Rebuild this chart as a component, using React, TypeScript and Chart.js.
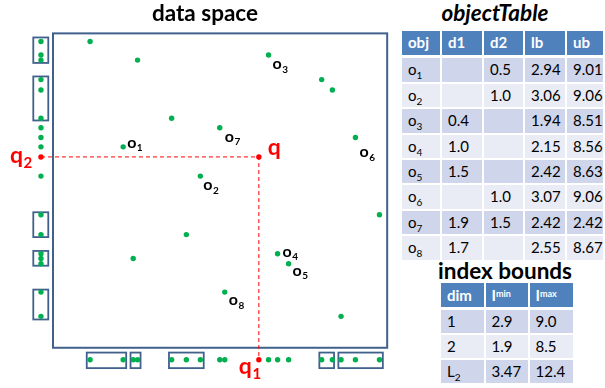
import React, { useEffect, useRef } from "react";
import { Chart, registerables } from "chart.js";

Chart.register(...registerables);

// ---- data space (x, y in units of the box: 0..100) ----
const pointX = [11.1, 25.3, 64.5, 80.4, 83.6, 35.5, 49.9, 90.5, 21.0, 44.1, 97.7, 39.9, 24.0, 67.2, 70.5, 51.4, 86.2];
const pointY = [97.4, 91.5, 93.1, 85.3, 82.0, 73.0, 70.0, 66.9, 63.9, 54.6, 42.3, 36.0, 28.4, 29.9, 26.7, 17.7, 10.0];
const pointNames = ["", "", "o3", "", "", "", "o7", "o6", "o1", "o2", "", "", "", "o4", "o5", "o8", ""];
const queryX = 61.6;
const queryY = 60.7;
// positions of the two projection axes
const projAxisX = -3.6;
const projAxisY = -3.83;
// bucket ranges on each projection axis
const yBuckets = [[90.6, 98.7], [72.3, 86.3], [35.2, 43.1], [26.1, 30.8], [9.0, 18.5]];
const xBuckets = [[10.1, 21.9], [23.2, 26.2], [34.7, 45.1], [79.7, 84.1], [85.4, 98.7]];
const bucketHalfWidth = 2.3;

// ---- tables ----
const objNames = ["1", "2", "3", "4", "5", "6", "7", "8"];
const objD1 = ["", "", "0.4", "1.0", "1.5", "", "1.9", "1.7"];
const objD2 = ["0.5", "1.0", "", "", "", "1.0", "1.5", ""];
const objLb = ["2.94", "3.06", "1.94", "2.15", "2.42", "3.07", "2.42", "2.55"];
const objUb = ["9.01", "9.06", "8.51", "8.56", "8.63", "9.06", "2.42", "8.67"];
const objHeaders = ["obj", "d1", "d2", "lb", "ub"];

const idxDims = ["1", "2", "L2"];
const idxMin = ["2.9", "1.9", "3.47"];
const idxMax = ["9.0", "8.5", "12.4"];

const FONT = "Lato, 'Open Sans', sans-serif";
const GREEN = "#00B050";
const RED = "#FF0000";
const FRAME = "#41618C";
const HEAD = "#4F81BD";
const ROW_DARK = "#CFD5EA";
const ROW_LIGHT = "#E9EBF5";

const labelOffsets: Record<string, [number, number]> = {
  o1: [4, 1], o2: [3, 14], o3: [4, 14], o4: [5, 3],
  o5: [4, 12], o6: [4, 20], o7: [5, 14], o8: [4, 13],
};

const overlayPlugin = {
  id: "overlay",
  beforeDatasetsDraw(chart: any) {
    const { ctx, scales } = chart;
    const xs = scales.x, ys = scales.y;
    const px = (v: number) => xs.getPixelForValue(v);
    const py = (v: number) => ys.getPixelForValue(v);
    ctx.save();
    ctx.strokeStyle = FRAME;
    ctx.lineWidth = 2;
    // main frame
    ctx.strokeRect(px(0), py(100), px(100) - px(0), py(0) - py(100));
    // buckets on the y projection axis
    ctx.lineWidth = 1.8;
    yBuckets.forEach(([a, b]) => {
      const x0 = px(projAxisX - bucketHalfWidth);
      const x1 = px(projAxisX + bucketHalfWidth * 0.95);
      ctx.strokeRect(x0, py(b), x1 - x0, py(a) - py(b));
    });
    xBuckets.forEach(([a, b]) => {
      const y0 = py(projAxisY + bucketHalfWidth);
      const y1 = py(projAxisY - bucketHalfWidth * 1.15);
      ctx.strokeRect(px(a), y0, px(b) - px(a), y1 - y0);
    });
    ctx.restore();
  },
  afterDatasetsDraw(chart: any) {
    const { ctx, scales } = chart;
    const xs = scales.x, ys = scales.y;
    const px = (v: number) => xs.getPixelForValue(v);
    const py = (v: number) => ys.getPixelForValue(v);
    ctx.save();
    ctx.textBaseline = "alphabetic";
    ctx.textAlign = "left";
    const drawSub = (main: string, sub: string, x: number, y: number, size: number, subSize: number, color: string) => {
      ctx.fillStyle = color;
      ctx.font = `bold ${size}px ${FONT}`;
      ctx.fillText(main, x, y);
      const w = ctx.measureText(main).width;
      ctx.font = `bold ${subSize}px ${FONT}`;
      ctx.fillText(sub, x + w + 0.5, y + size * 0.22);
    };
    pointNames.forEach((n, i) => {
      if (!n) return;
      const [dx, dy] = labelOffsets[n];
      drawSub("o", n.slice(1), px(pointX[i]) + dx, py(pointY[i]) + dy, 16, 10, "#000");
    });
    // query labels
    ctx.fillStyle = RED;
    ctx.font = `bold 23px ${FONT}`;
    ctx.fillText("q", px(queryX) + 9, py(queryY) - 2);
    drawSub("q", "2", px(projAxisX) - 31, py(queryY) + 6, 23, 15, RED);
    drawSub("q", "1", px(queryX) - 20, py(projAxisY) + 14, 23, 15, RED);
    ctx.restore();
  },
};

function DataSpace() {
  const ref = useRef<HTMLCanvasElement | null>(null);
  useEffect(() => {
    if (!ref.current) return;
    const pts = pointX.map((x, i) => ({ x, y: pointY[i] }));
    const chart = new Chart(ref.current, {
      type: "scatter",
      data: {
        datasets: [
          {
            label: "query lines",
            data: [
              { x: projAxisX, y: queryY },
              { x: queryX, y: queryY },
              { x: queryX, y: projAxisY },
            ],
            showLine: true,
            borderColor: RED,
            borderWidth: 1,
            borderDash: [4, 3],
            pointRadius: 0,
            fill: false,
          } as any,
          {
            label: "objects",
            data: pts,
            backgroundColor: GREEN,
            borderWidth: 0,
            pointRadius: 2.7,
          },
          {
            label: "dim 2 projection",
            data: pointY.map((y) => ({ x: projAxisX, y })),
            backgroundColor: GREEN,
            borderWidth: 0,
            pointRadius: 2.7,
          },
          {
            label: "dim 1 projection",
            data: pointX.map((x) => ({ x, y: projAxisY })),
            backgroundColor: GREEN,
            borderWidth: 0,
            pointRadius: 2.7,
          },
          {
            label: "query",
            data: [
              { x: queryX, y: queryY },
              { x: projAxisX, y: queryY },
              { x: queryX, y: projAxisY },
            ],
            backgroundColor: RED,
            borderWidth: 0,
            pointRadius: 2.7,
          },
        ],
      },
      options: {
        animation: false,
        responsive: false,
        devicePixelRatio: 1,
        layout: { padding: 0 },
        plugins: { legend: { display: false }, tooltip: { enabled: false }, title: { display: false } },
        scales: {
          x: { type: "linear", min: -14.663, max: 102.639, display: false },
          y: { type: "linear", min: -11.526, max: 109.346, display: false },
        },
      },
      plugins: [overlayPlugin],
    });
    return () => chart.destroy();
  }, []);
  return (
    <canvas
      ref={ref}
      width={400}
      height={388}
      style={{ position: "absolute", left: 0, top: 0, width: 400, height: 388 }}
    />
  );
}

function Cell(props: { left: number; top: number; width: number; height: number; bg: string; children?: any; color?: string; bold?: boolean; pad?: number }) {
  const { left, top, width, height, bg, children, color, bold, pad } = props;
  return (
    <div
      style={{
        position: "absolute",
        left,
        top,
        width: width - (pad ?? 6),
        height,
        paddingLeft: pad ?? 6,
        background: bg,
        color: color ?? "#000",
        fontWeight: bold ? 700 : 400,
        fontSize: 15,
        fontFamily: FONT,
        lineHeight: `${height}px`,
        whiteSpace: "nowrap",
      }}
    >
      {children}
    </div>
  );
}

const sub = (t: string) => <span style={{ fontSize: 10, position: "relative", top: 4 }}>{t}</span>;
const sup = (t: string) => <span style={{ fontSize: 9, position: "relative", top: -4 }}>{t}</span>;

function ObjectTable() {
  const edges = [402, 442, 484, 525, 567, 605];
  const headTop = 31, headH = 23.5, rowTop = 58.3, rowPitch = 25.4, rowH = 23.6;
  const cells: any[] = [];
  objHeaders.forEach((h, c) => {
    cells.push(
      <Cell key={`h${c}`} left={edges[c]} top={headTop} width={edges[c + 1] - edges[c] - 2} height={headH} bg={HEAD} color="#fff" bold>
        {h}
      </Cell>
    );
  });
  objNames.forEach((n, r) => {
    const vals = [<span>o{sub(n)}</span>, objD1[r], objD2[r], objLb[r], objUb[r]];
    vals.forEach((v, c) => {
      cells.push(
        <Cell key={`r${r}c${c}`} left={edges[c]} top={rowTop + r * rowPitch} width={edges[c + 1] - edges[c] - 2} height={rowH} bg={r % 2 === 0 ? ROW_DARK : ROW_LIGHT}>
          {v}
        </Cell>
      );
    });
  });
  return <>{cells}</>;
}

function IndexTable() {
  const edges = [441, 485.5, 529.5, 575];
  const headTop = 282.7, headH = 24.5, rowTop = 310, rowPitch = 25, rowH = 23.2;
  const heads = [<span>dim</span>, <span>I{sup("min")}</span>, <span>I{sup("max")}</span>];
  const cells: any[] = [];
  heads.forEach((h, c) => {
    cells.push(
      <Cell key={`h${c}`} left={edges[c]} top={headTop} width={edges[c + 1] - edges[c] - 2} height={headH} bg={HEAD} color="#fff" bold>
        {h}
      </Cell>
    );
  });
  idxDims.forEach((d, r) => {
    const dim = d === "L2" ? <span>L{sub("2")}</span> : d;
    const vals = [dim, idxMin[r], idxMax[r]];
    vals.forEach((v, c) => {
      cells.push(
        <Cell key={`r${r}c${c}`} left={edges[c]} top={rowTop + r * rowPitch} width={edges[c + 1] - edges[c] - 2} height={rowH} bg={r % 2 === 0 ? ROW_DARK : ROW_LIGHT}>
          {v}
        </Cell>
      );
    });
  });
  return <>{cells}</>;
}

const titleStyle = (left: number, width: number, top: number, italic = false): React.CSSProperties => ({
  position: "absolute",
  left,
  width,
  top,
  textAlign: "center",
  fontFamily: FONT,
  fontWeight: 700,
  fontStyle: italic ? "italic" : "normal",
  fontSize: 22.5,
  lineHeight: "24px",
  color: "#000",
  whiteSpace: "nowrap",
});

export default function App() {
  return (
    <div style={{ position: "absolute", left: 0, top: 0, width: 605, height: 388, background: "#fff", overflow: "hidden" }}>
      <DataSpace />
      <div style={titleStyle(105, 200, 0.5)}>data space</div>
      <div style={titleStyle(435, 120, 0.5, true)}>objectTable</div>
      <ObjectTable />
      <div style={titleStyle(425, 160, 259)}>index bounds</div>
      <IndexTable />
    </div>
  );
}
